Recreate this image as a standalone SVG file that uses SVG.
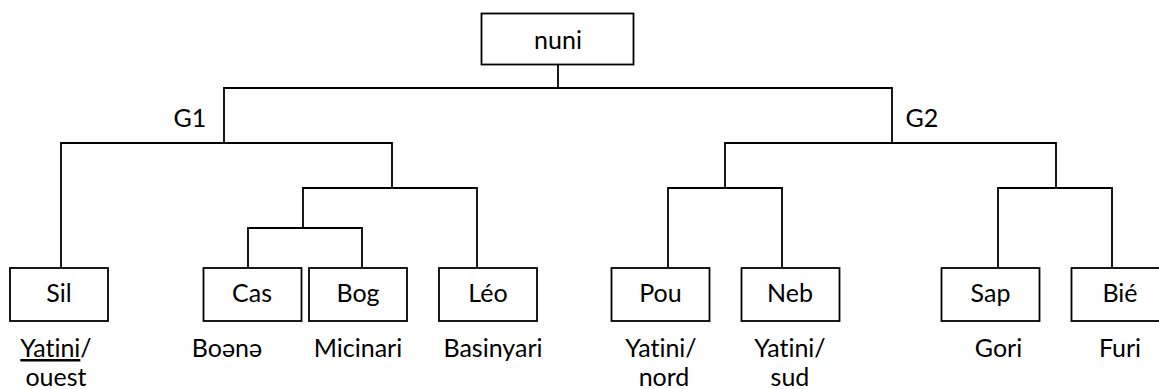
<svg xmlns="http://www.w3.org/2000/svg" width="1159" height="389" viewBox="0 0 1159 389">
<style>
.box{fill:#fff;stroke:#000;stroke-width:1.8}
.conn{fill:none;stroke:#000;stroke-width:1.8;stroke-linecap:square}
text{font-family:Lato,"Noto Sans","DejaVu Sans",sans-serif;font-size:25px;fill:#000;text-anchor:middle;font-variant-ligatures:none}
</style>
<rect width="1159" height="389" fill="#fff"/>
<g id="connectors">
<path class="conn" d="M558 65V88M224 88H892M224 88V143M61 143H392M61 143V268M392 143V188M303 188H477M477 188V268M303 188V228M248 228H362M248 228V268M362 228V268M892 88V143M725 143H1056M725 143V188M668 188H782M668 188V268M782 188V268M1056 143V188M998 188H1112M998 188V268M1112 188V268"/>
</g>
<g id="node-nuni"><rect class="box" x="481.5" y="13.5" width="152" height="51"/><text x="558" y="49">nuni</text></g>
<g id="label-G1"><text x="190" y="127">G1</text></g>
<g id="label-G2"><text x="922" y="127">G2</text></g>
<g id="node-Sil"><rect class="box" x="10" y="268" width="98" height="53"/><text x="59" y="302">Sil</text>
<text x="56" y="357"><tspan text-decoration="underline">Yatini</tspan>/</text><text x="56" y="386">ouest</text></g>
<g id="node-Cas"><rect class="box" x="203.5" y="268" width="98" height="53"/><text x="252" y="302">Cas</text><text x="227" y="357">Boənə</text></g>
<g id="node-Bog"><rect class="box" x="309" y="268" width="98" height="53"/><text x="358" y="302">Bog</text><text x="358" y="357">Micinari</text></g>
<g id="node-Leo"><rect class="box" x="439" y="268" width="98" height="53"/><text x="488" y="302">Léo</text><text x="493" y="357">Basinyari</text></g>
<g id="node-Pou"><rect class="box" x="611.5" y="268" width="98" height="53"/><text x="660.5" y="302">Pou</text><text x="661" y="357">Yatini/</text><text x="664" y="386">nord</text></g>
<g id="node-Neb"><rect class="box" x="741.5" y="268" width="98" height="53"/><text x="790" y="302">Neb</text><text x="790" y="357">Yatini/</text><text x="790" y="386">sud</text></g>
<g id="node-Sap"><rect class="box" x="941.5" y="268" width="98" height="53"/><text x="990.5" y="302">Sap</text><text x="998.5" y="357">Gori</text></g>
<g id="node-Bie"><rect class="box" x="1071.5" y="268" width="98" height="53"/><text x="1120" y="302">Bié</text><text x="1120" y="357">Furi</text></g>
</svg>
